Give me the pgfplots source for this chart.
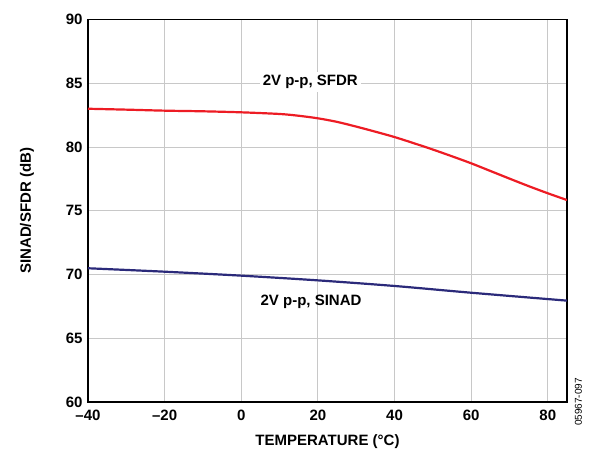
\documentclass[border=0pt]{standalone}
\usepackage{pgfplots}
\pgfplotsset{compat=1.18}
\usepackage{fontspec}
\setmainfont{Liberation Sans}
\definecolor{sfdrred}{RGB}{237,28,36}
\definecolor{sinadblue}{RGB}{43,42,122}
\definecolor{gridgray}{RGB}{200,200,200}
\begin{document}
\begin{tikzpicture}
\useasboundingbox (-88pt,-49pt) rectangle (507pt,402pt);
\begin{axis}[
  scale only axis,
  width=479pt, height=382.5pt,
  xmin=-40, xmax=85, ymin=60, ymax=90,
  xtick={-40,-20,0,20,40,60,80},
  xticklabels={–40,–20,0,20,40,60,80},
  ytick={60,65,70,75,80,85,90},
  /pgf/number format/assume math mode=true,
  ticklabel style={font=\fontsize{15}{17}\selectfont\bfseries},
  major tick length=0pt,
  grid=major,
  major grid style={gridgray, line width=1pt},
  axis line style={black, line width=1.6pt},
  xticklabel style={yshift=-4pt},
  yticklabel style={xshift=-2pt},
  xlabel={TEMPERATURE (°C)},
  ylabel={SINAD/SFDR (dB)},
  label style={font=\fontsize{15}{17}\selectfont\bfseries},
  xlabel style={at={(axis description cs:0.5,-0.1046)}, anchor=center},
  ylabel style={at={(axis description cs:-0.1273,0.5)}, anchor=center},
  clip=true,
]
\addplot[sfdrred, line width=2.2pt, smooth] coordinates {
(-40,83.00) (-30,82.93) (-20,82.85) (-10,82.80) (0,82.72) (10,82.59) (15,82.45)
(20,82.25) (25,81.97) (30,81.6) (35,81.2) (40,80.78) (45,80.3) (50,79.8)
(55,79.27) (60,78.72) (65,78.12) (70,77.52) (75,76.93) (80,76.37) (85,75.84)
};
\addplot[sinadblue, line width=2.2pt, smooth] coordinates {
(-40,70.49) (-20,70.22) (0,69.91) (20,69.54) (40,69.1) (60,68.57) (85,67.95)
};
\node[fill=white, inner sep=3pt, font=\fontsize{15}{17}\selectfont\bfseries] at (axis cs:18,85.1) {2V p-p, SFDR};
\node[inner sep=3pt, font=\fontsize{15}{17}\selectfont\bfseries] at (axis cs:18.2,67.87) {2V p-p, SINAD};
\end{axis}
\node[rotate=90, font=\fontsize{10}{12}\selectfont] at (490.5pt,0pt) {05967-097};
\end{tikzpicture}
\end{document}
